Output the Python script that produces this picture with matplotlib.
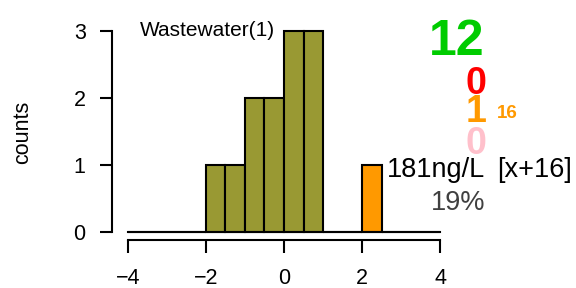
import numpy as np
import matplotlib.pyplot as plt

plt.rcParams['font.family'] = ['Liberation Sans', 'DejaVu Sans']

# histogram bins (width 0.5) and counts
bin_edges = np.arange(-4, 4.01, 0.5)
counts = [0, 0, 0, 0, 1, 1, 2, 2, 3, 3, 0, 0, 1, 0, 0, 0]
highlight_bin = 12  # bin 2..2.5 drawn in orange

panel_label = "Wastewater(1)"
n_total = 12
n_red = 0
n_orange = 1
n_orange_note = "16"
n_pink = 0
value_label = "181ng/L"
shift_label = "[x+16]"
pct_label = "19%"

bar_col = "#999933"
hi_col = "#FF9900"

fig = plt.figure(figsize=(5.76, 2.88), dpi=100)
ax = fig.add_axes([112/576, 48/288, 344/576, 216/288])

colors = [hi_col if i == highlight_bin else bar_col for i in range(len(counts))]
ax.bar(bin_edges[:-1], counts, width=0.5, align="edge", color=colors,
       edgecolor="black", linewidth=1.5)
ax.plot([bin_edges[0], bin_edges[-1]], [0, 0], color="black", lw=1.5)

ax.set_xlim(-4.41, 4.41)
ax.set_ylim(-0.12, 3.1)
for s in ["top", "right"]:
    ax.spines[s].set_visible(False)
ax.spines["left"].set_bounds(0, 3)
ax.spines["bottom"].set_bounds(-4, 4)
ax.spines["left"].set_linewidth(1.5)
ax.spines["bottom"].set_linewidth(1.5)
ax.set_yticks([0, 1, 2, 3])
ax.set_xticks([-4, -2, 0, 2, 4])
ax.set_xticklabels(["\u22124", "\u22122", "0", "2", "4"])
ax.tick_params(length=9, width=1.5, labelsize=15.5)
ax.tick_params(axis="x", pad=11)
ax.tick_params(axis="y", pad=10)
ax.set_ylabel("counts", fontsize=15.5, labelpad=29)

def ftxt(x, y, s, **kw):
    fig.text(x/576, 1 - y/288, s, va="baseline", **kw)

ftxt(140, 36.5, panel_label, fontsize=15, ha="left")

ftxt(485, 55, str(n_total), color="#00CC00", fontsize=36, fontweight="bold",
     ha="right")
ftxt(486, 93.5, str(n_red), color="#FF0000", fontsize=27, fontweight="bold",
     ha="right")
ftxt(486, 122.5, str(n_orange), color="#FF9900", fontsize=27, fontweight="bold",
     ha="right")
ftxt(497, 117.5, n_orange_note, color="#FF9900", fontsize=13.5, fontweight="bold",
     ha="left")
ftxt(486, 154, str(n_pink), color="#FFC0CB", fontsize=27, fontweight="bold",
     ha="right")
ftxt(485, 177, value_label, color="black", fontsize=19.5, ha="right")
ftxt(497, 177, shift_label, color="black", fontsize=19.5, ha="left")
ftxt(485, 209.5, pct_label, color="#404040", fontsize=19.5, ha="right")

fig.savefig("out.png", dpi=100)
